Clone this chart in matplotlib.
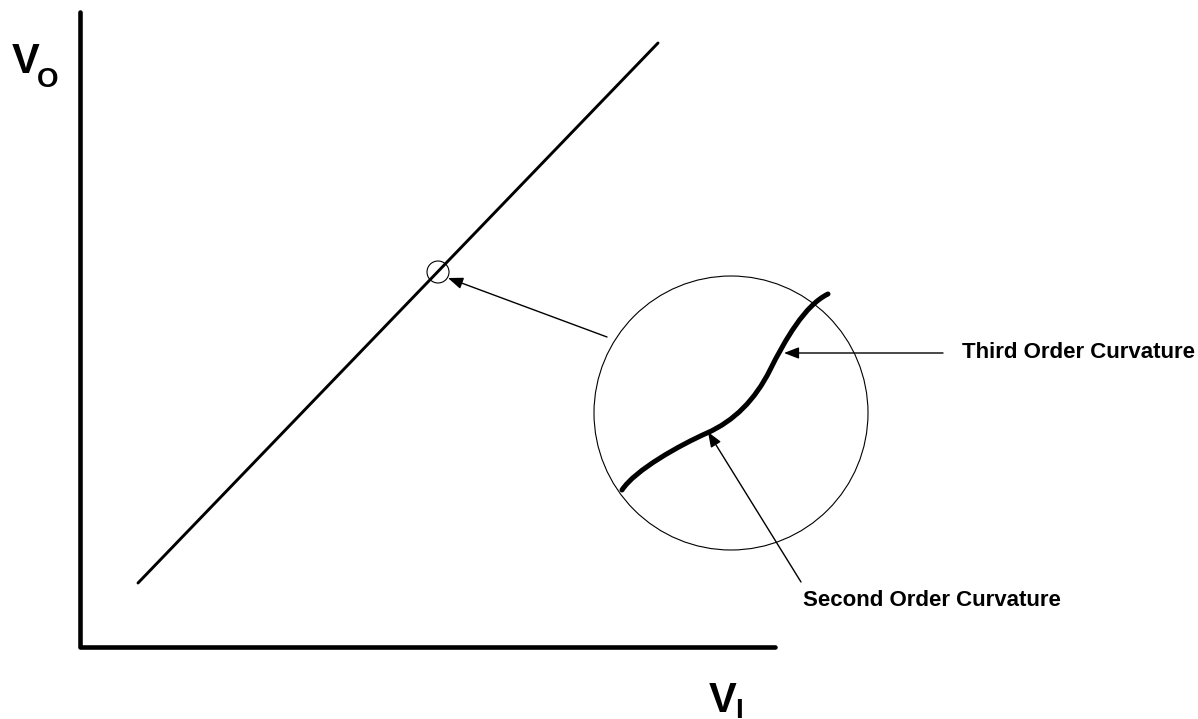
import matplotlib.pyplot as plt
from matplotlib.patches import Circle, PathPatch
from matplotlib.path import Path

plt.rcParams['font.family'] = ['Liberation Sans', 'DejaVu Sans']

# sketch geometry, in picture pixels (y grows downward)
axis_x = [80, 80, 775]
axis_y = [12, 647, 647]
transfer_x = [138, 658]
transfer_y = [583, 43]
small_circle = (438, 272, 11)
big_circle = (731, 413, 137)
# S-shaped curve (cubic bezier pieces: end, ctrl, ctrl, end, ...)
curve_pts = [(622, 490), (635, 470), (680, 445), (707, 433),
             (734, 421), (755, 400), (770, 370),
             (785, 340), (805, 305), (828, 294)]
zoom_arrow = [(607, 337), (448, 278)]
third_arrow = [(943, 353), (784, 353)]
second_arrow = [(801, 582), (708, 432)]
third_label = "Third Order Curvature"
second_label = "Second Order Curvature"

fig = plt.figure(figsize=(11.98, 7.19), dpi=100)
ax = fig.add_axes([0, 0, 1, 1])
ax.set_xlim(0, 1198)
ax.set_ylim(719, 0)
ax.axis("off")

ax.plot(axis_x, axis_y, color="black", lw=3.3, solid_capstyle="round",
        solid_joinstyle="round")
ax.plot(transfer_x, transfer_y, color="black", lw=2.1, solid_capstyle="round")

ax.add_patch(Circle(small_circle[:2], small_circle[2], fill=False, lw=0.8, color="black"))
ax.add_patch(Circle(big_circle[:2], big_circle[2], fill=False, lw=0.8, color="black"))

codes = [Path.MOVETO] + [Path.CURVE4] * (len(curve_pts) - 1)
ax.add_patch(PathPatch(Path(curve_pts, codes), fill=False, lw=3.6,
                       color="black", capstyle="round"))

arrow_kw = dict(arrowstyle="-|>,head_length=0.9,head_width=0.35", color="black",
                lw=1.0, shrinkA=0, shrinkB=0)
for tail, tip in [zoom_arrow, third_arrow, second_arrow]:
    ax.annotate("", xy=tip, xytext=tail, arrowprops=arrow_kw)

ax.text(962, 353, third_label, fontsize=16, fontweight="bold", va="center", ha="left")
ax.text(803, 600, second_label, fontsize=16, fontweight="bold", va="center", ha="left")

# axis names
ax.text(12, 73, "V", fontsize=30, fontweight="bold", va="baseline", ha="left")
ax.text(37, 87, "O", fontsize=20, fontweight="bold", va="baseline", ha="left")
ax.text(709, 712, "V", fontsize=30, fontweight="bold", va="baseline", ha="left")
ax.text(735, 718, "I", fontsize=20, fontweight="bold", va="baseline", ha="left")

fig.savefig("out.png", dpi=100)
